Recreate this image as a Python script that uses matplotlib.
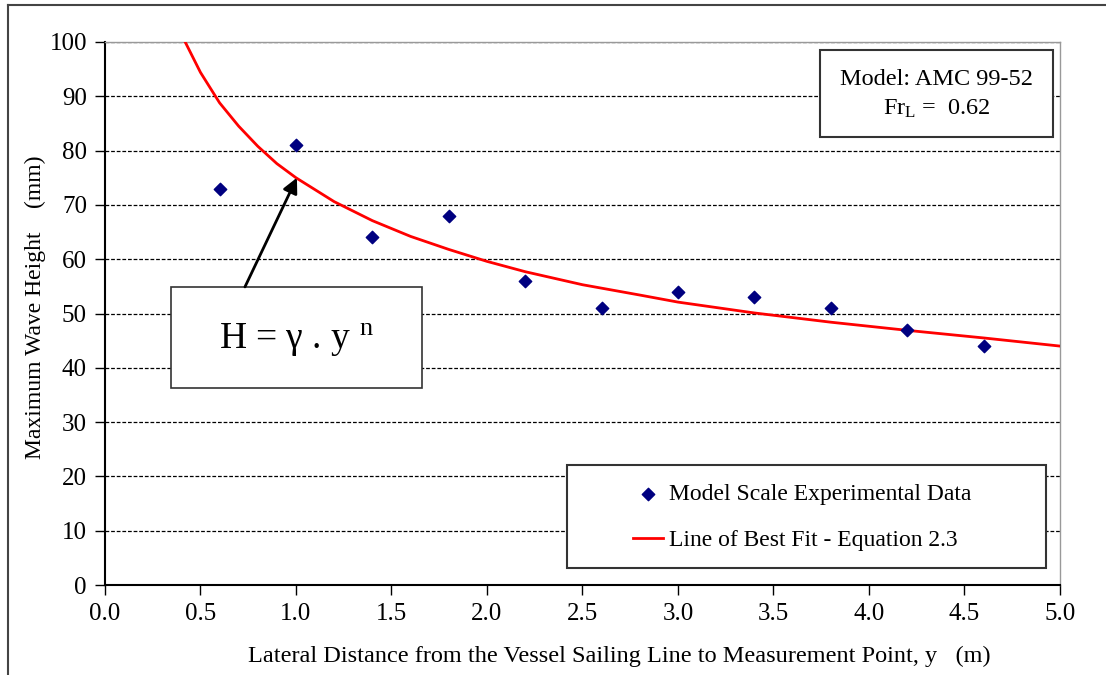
import matplotlib
matplotlib.use('Agg')
import matplotlib.pyplot as plt
from matplotlib.lines import Line2D
from matplotlib.patches import Rectangle

plt.rcParams['font.family'] = ['Liberation Serif', 'DejaVu Serif']
plt.rcParams['mathtext.fontset'] = 'custom'
plt.rcParams['mathtext.rm'] = 'Liberation Serif'
plt.rcParams['mathtext.it'] = 'Liberation Serif:italic'

# measured points
y_dist = [0.6, 1.0, 1.4, 1.8, 2.2, 2.6, 3.0, 3.4, 3.8, 4.2, 4.6]
wave_h = [73, 81, 64, 68, 56, 51, 54, 53, 51, 47, 44]

# best fit line
fit_x = [0.42, 0.5, 0.6, 0.7, 0.8, 0.9, 1.0, 1.2, 1.4, 1.6, 1.8, 2.0, 2.2,
         2.5, 2.8, 3.0, 3.4, 3.8, 4.2, 4.6, 5.0]
fit_h = [100, 94.4, 88.8, 84.5, 80.8, 77.6, 75.0, 70.6, 67.1, 64.2, 61.8, 59.6,
         57.7, 55.3, 53.4, 52.1, 50.1, 48.4, 46.9, 45.5, 44.0]

xticks = [0.0, 0.5, 1.0, 1.5, 2.0, 2.5, 3.0, 3.5, 4.0, 4.5, 5.0]
yticks = [0, 10, 20, 30, 40, 50, 60, 70, 80, 90, 100]

fig = plt.figure(figsize=(11.06, 6.75), dpi=100)
ax = fig.add_axes([0.0949, 0.1333, 0.8635, 0.8045])

for t in yticks[1:]:
    ax.axhline(t, color='black', lw=0.9, ls=(0, (3, 1.5)), zorder=1)

ax.plot(fit_x, fit_h, color='#ff0000', lw=2, zorder=3,
        label='Line of Best Fit - Equation 2.3')
ax.scatter(y_dist, wave_h, marker='D', s=40, color='#000080', zorder=4,
           label='Model Scale Experimental Data')

ax.set_xlim(0, 5)
ax.set_ylim(0, 100)
ax.set_xticks(xticks)
ax.set_xticklabels(['%.1f' % v for v in xticks])
ax.set_yticks(yticks)
ax.tick_params(direction='out', length=7, width=1, labelsize=18, pad=6)

for s in ['top', 'right']:
    ax.spines[s].set_color('#999999')
    ax.spines[s].set_linewidth(1)
for s in ['left', 'bottom']:
    ax.spines[s].set_linewidth(1.5)

ax.set_xlabel('Lateral Distance from the Vessel Sailing Line to Measurement Point, y   (m)',
              fontsize=17.5)
ax.xaxis.set_label_coords(0.539, -0.112)
ax.set_ylabel('Maximum Wave Height    (mm)', fontsize=17)
ax.yaxis.set_label_coords(-0.062, 0.512)

# legend, framed box drawn separately
ax.add_patch(Rectangle((0.484, 0.031), 0.501, 0.19, transform=ax.transAxes,
                       fc='white', ec='#333333', lw=1.5, zorder=5))
leg = ax.legend(handles=[ax.collections[0], ax.lines[-1]],
                loc='center', bbox_to_anchor=(0.73, 0.125),
                fontsize=17, frameon=False, labelspacing=1.05,
                handlelength=1.3, handletextpad=0.25, borderpad=0)
leg.set_zorder(6)

# model box
ax.add_patch(Rectangle((3.743, 82.5), 1.22, 16.0, fc='white', ec='#333333',
                       lw=1.5, zorder=5))
ax.text(4.353, 90.3, 'Model: AMC 99-52\nFr$_{\\rm L}$ =  0.62', ha='center', va='center',
        fontsize=17.5, linespacing=1.45, zorder=6)

# equation box with arrow
ax.add_patch(Rectangle((0.346, 36.3), 1.314, 18.6, fc='white', ec='#333333',
                       lw=1.2, zorder=5))
ax.text(1.0, 45.0, 'H = γ . y $^{\\rm n}$', ha='center', va='center',
        fontsize=27, zorder=6)
ax.annotate('', xy=(1.005, 75), xytext=(0.733, 54.9), zorder=6,
            arrowprops=dict(arrowstyle='-|>,head_length=0.9,head_width=0.45',
                            color='black', lw=2, shrinkA=0, shrinkB=0))

# outer frame lines
fig.add_artist(Line2D([0.0072, 1.0], [0.9926, 0.9926], color='#444444', lw=1.5))
fig.add_artist(Line2D([0.0072, 0.0072], [0.0, 0.9926], color='#444444', lw=1.5))

fig.savefig('out.png', dpi=100)
